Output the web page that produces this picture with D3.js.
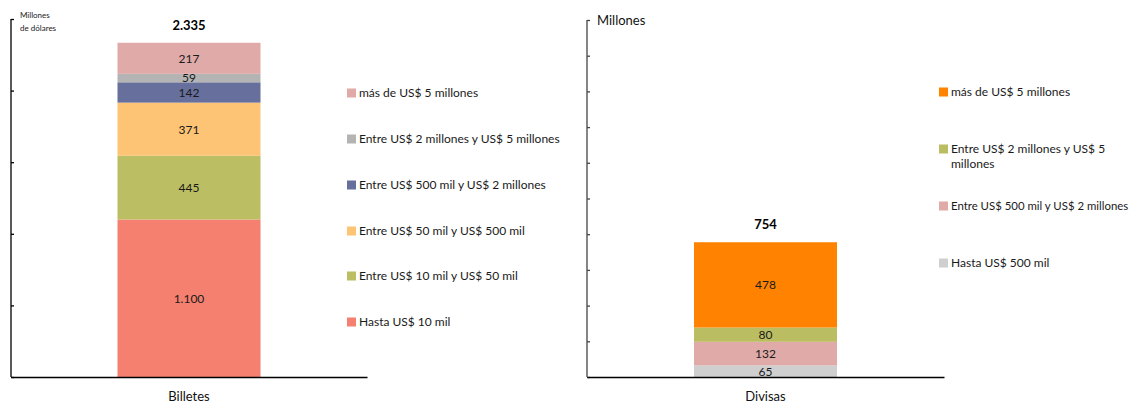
<!DOCTYPE html>
<html>
<head>
<meta charset="utf-8">
<script src="https://cdn.jsdelivr.net/npm/d3@7"></script>
<style>
  html, body { margin: 0; padding: 0; background: #fff; }
  svg { display: block; font-family: Lato, "Open Sans", sans-serif; }
</style>
</head>
<body>
<svg id="chart" width="1135" height="406"></svg>
<script>
// Billetes: tramos por monto (de abajo hacia arriba), millones de dólares
const billetesTramos = ["Hasta US$ 10 mil", "Entre US$ 10 mil y US$ 50 mil", "Entre US$ 50 mil y US$ 500 mil",
  "Entre US$ 500 mil y US$ 2 millones", "Entre US$ 2 millones y US$ 5 millones", "más de US$ 5 millones"];
const billetesValores = [1100, 445, 371, 142, 59, 217];
const billetesEtiquetas = ["1.100", "445", "371", "142", "59", "217"];
const billetesColores = ["#F58070", "#BCBE63", "#FCC474", "#67709D", "#B4B4B4", "#E0AAA9"];
const billetesTotal = 2335;
const billetesTotalEtiqueta = "2.335";

// Divisas: tramos por monto (de abajo hacia arriba), millones
const divisasTramos = ["Hasta US$ 500 mil", "Entre US$ 500 mil y US$ 2 millones",
  "Entre US$ 2 millones y US$ 5 millones", "más de US$ 5 millones"];
const divisasValores = [65, 132, 80, 478];
const divisasEtiquetas = ["65", "132", "80", "478"];
const divisasColores = ["#CFCFCF", "#E0AAA9", "#BBBD62", "#FF8300"];
const divisasTotal = 754;
const divisasTotalEtiqueta = "754";

const svg = d3.select("#chart");
const W = 1135;

function panel(cfg) {
  const g = svg.append("g");
  const x = d3.scaleBand().domain([cfg.category]).range([cfg.x0, cfg.x1]).paddingInner(0).paddingOuter(0);
  const bandW = cfg.barWidth;
  const cx = x(cfg.category) + x.bandwidth() / 2;
  const y = d3.scaleLinear().domain([0, cfg.max]).range([cfg.y0, cfg.y1]);

  // stacked segments
  const stack = d3.stack().keys(cfg.values.map((_, i) => i))([Object.assign({}, cfg.values)]);
  stack.forEach((layer, i) => {
    const d = layer[0];
    g.append("rect")
      .attr("x", cx - bandW / 2)
      .attr("width", bandW)
      .attr("y", y(d[1]))
      .attr("height", y(d[0]) - y(d[1]))
      .attr("fill", cfg.colors[i]);
    g.append("text")
      .attr("x", cx)
      .attr("y", (y(d[0]) + y(d[1])) / 2)
      .attr("dy", "0.36em")
      .attr("text-anchor", "middle")
      .attr("font-size", 12)
      .attr("fill", "#1a1a1a")
      .text(cfg.labels[i]);
  });

  // total on top
  g.append("text")
    .attr("x", cx)
    .attr("y", y(cfg.total) - 13)
    .attr("text-anchor", "middle")
    .attr("font-size", 13)
    .attr("font-weight", "bold")
    .attr("fill", "#000")
    .text(cfg.totalLabel);

  // y axis (ticks only, pointing inward)
  const yAxis = d3.axisRight(y).tickValues(d3.range(0, cfg.max + 1, cfg.step))
    .tickSize(3).tickFormat("");
  const ya = g.append("g").attr("transform", `translate(${cfg.x0},0)`).call(yAxis);
  ya.selectAll("path, line").attr("stroke", cfg.axisColor).attr("stroke-width", 1.3);
  ya.select(".domain").attr("d", `M0,${cfg.y0}V${cfg.y1}`);

  // x axis baseline + category
  const xa = g.append("g").attr("transform", `translate(0,${cfg.y0})`)
    .call(d3.axisBottom(x).tickSize(0).tickPadding(15));
  xa.select(".domain").attr("stroke", "#000").attr("stroke-width", 1.6);
  xa.selectAll("text").attr("font-size", 13).attr("font-family", "Lato, sans-serif").attr("fill", "#111");

  // legend (top item = top segment)
  const leg = g.append("g");
  cfg.legendY.forEach((ly, k) => {
    const i = cfg.values.length - 1 - k;
    leg.append("rect").attr("x", cfg.legendX).attr("y", ly - 4.5).attr("width", 9).attr("height", 9)
      .attr("fill", cfg.colors[i]);
    const lines = cfg.legendLines && cfg.legendLines[i] ? cfg.legendLines[i] : [cfg.names[i]];
    lines.forEach((t, j) => {
      const tx = leg.append("text").attr("x", cfg.legendX + 12).attr("y", ly + j * 15).attr("dy", "0.36em")
        .attr("font-size", 12).attr("fill", "#1a1a1a").text(t);
      // shrink long entries so they stay inside the page
      const room = W - 6 - (cfg.legendX + 12);
      const len = tx.node().getComputedTextLength();
      if (len > room) tx.attr("font-size", Math.floor(12 * room / len * 10) / 10);
    });
  });
  return g;
}

panel({
  category: "Billetes", x0: 11, x1: 367, barWidth: 143,
  y0: 377, y1: 19, max: 2500, step: 500,
  values: billetesValores, labels: billetesEtiquetas, colors: billetesColores, names: billetesTramos,
  total: billetesTotal, totalLabel: billetesTotalEtiqueta, axisColor: "#000",
  legendX: 347, legendY: [93, 139, 185, 231, 276, 322]
});

panel({
  category: "Divisas", x0: 587, x1: 944, barWidth: 143,
  y0: 377, y1: 20, max: 2000, step: 200,
  values: divisasValores, labels: divisasEtiquetas, colors: divisasColores, names: divisasTramos,
  total: divisasTotal, totalLabel: divisasTotalEtiqueta, axisColor: "#444",
  legendX: 939, legendY: [92, 149, 206, 263],
  legendLines: { 2: ["Entre US$ 2 millones y US$ 5", "millones"] }
});

// unit captions
svg.append("text").attr("x", 20).attr("y", 18).attr("font-size", 8).attr("fill", "#222").text("Millones");
svg.append("text").attr("x", 20).attr("y", 31).attr("font-size", 8).attr("fill", "#222").text("de dólares");
svg.append("text").attr("x", 597).attr("y", 25).attr("font-size", 13).attr("fill", "#111").text("Millones");
</script>
</body>
</html>
